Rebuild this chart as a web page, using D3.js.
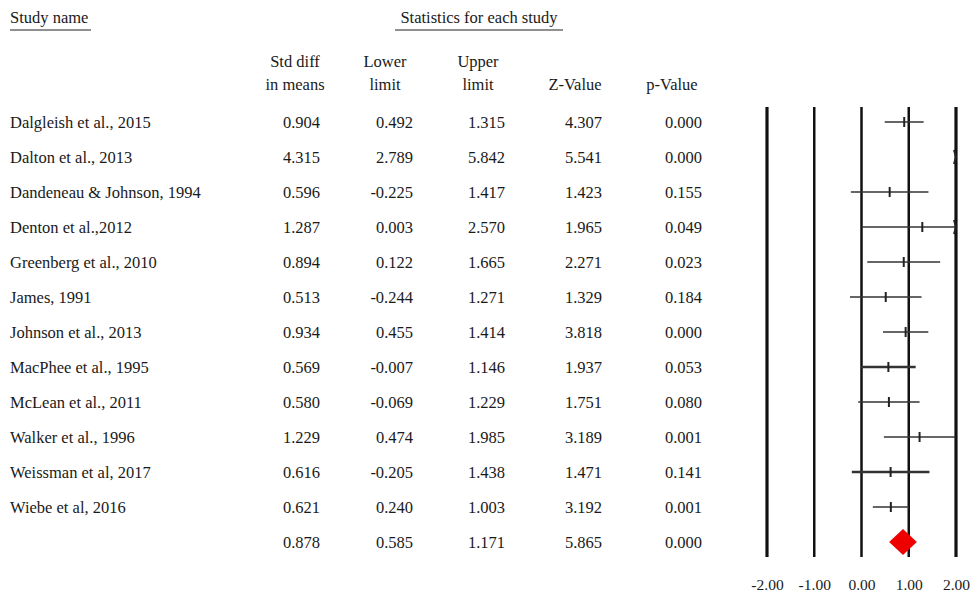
<!DOCTYPE html>
<head lang="en">
<meta charset="utf-8">
<title>Forest plot</title>
<style>
body { margin:0; background:#fff; }
text { font-family:"Liberation Serif","Times New Roman",serif; fill:#1a1a1a; }
</style>
<script src="https://cdnjs.cloudflare.com/ajax/libs/d3/7.8.5/d3.min.js"></script>
</head>
<body>
<script>
// Study data
var studies = ["Dalgleish et al., 2015", "Dalton et al., 2013", "Dandeneau & Johnson, 1994",
	"Denton et al.,2012", "Greenberg et al., 2010", "James, 1991", "Johnson et al., 2013",
	"MacPhee et al., 1995", "McLean et al., 2011", "Walker et al., 1996",
	"Weissman et al, 2017", "Wiebe et al, 2016"];
var stdDiff = [0.904, 4.315, 0.596, 1.287, 0.894, 0.513, 0.934, 0.569, 0.580, 1.229, 0.616, 0.621];
var lowerLimit = [0.492, 2.789, -0.225, 0.003, 0.122, -0.244, 0.455, -0.007, -0.069, 0.474, -0.205, 0.240];
var upperLimit = [1.315, 5.842, 1.417, 2.570, 1.665, 1.271, 1.414, 1.146, 1.229, 1.985, 1.438, 1.003];
var zValue = [4.307, 5.541, 1.423, 1.965, 2.271, 1.329, 3.818, 1.937, 1.751, 3.189, 1.471, 3.192];
var pValue = [0.000, 0.000, 0.155, 0.049, 0.023, 0.184, 0.000, 0.053, 0.080, 0.001, 0.141, 0.001];

// Pooled (summary) row
var summary = { est: 0.878, lo: 0.585, hi: 1.171, z: 5.865, p: 0.000 };

var axisTicks = [-2, -1, 0, 1, 2];

var width = 978, height = 601;
var fontSize = "16.5px";
var svg = d3.select("body").append("svg")
	.attr("width", width)
	.attr("height", height);

// scales
var x = d3.scaleLinear().domain([-2, 2]).range([767, 956]);
var y = d3.scaleLinear().domain([0, studies.length]).range([122, 122 + 35 * studies.length]);
var fmt = function(v) { return v.toFixed(3); };

// top headers
svg.append("text").attr("x", 10).attr("y", 23).style("font-size", fontSize).text("Study name");
svg.append("line").attr("x1", 10).attr("x2", 91).attr("y1", 30).attr("y2", 30)
	.style("stroke", "#222").style("stroke-width", 1.2);
svg.append("text").attr("x", 479).attr("y", 23).attr("text-anchor", "middle")
	.style("font-size", fontSize).text("Statistics for each study");
svg.append("line").attr("x1", 395).attr("x2", 563).attr("y1", 30).attr("y2", 30)
	.style("stroke", "#222").style("stroke-width", 1.2);

// column headers
var columns = [
	{ lines: ["Std diff", "in means"], cx: 295, right: 320, values: stdDiff, sum: summary.est },
	{ lines: ["Lower", "limit"], cx: 385, right: 413, values: lowerLimit, sum: summary.lo },
	{ lines: ["Upper", "limit"], cx: 478, right: 505, values: upperLimit, sum: summary.hi },
	{ lines: ["", "Z-Value"], cx: 575, right: 602, values: zValue, sum: summary.z },
	{ lines: ["", "p-Value"], cx: 672, right: 702, values: pValue, sum: summary.p }
];

columns.forEach(function(col) {
	col.lines.forEach(function(t, k) {
		svg.append("text").attr("x", col.cx).attr("y", 67 + k * 23)
			.attr("text-anchor", "middle").style("font-size", fontSize).text(t);
	});
	svg.append("g").selectAll("text")
		.data(col.values.concat([col.sum]))
		.join("text")
			.attr("x", col.right)
			.attr("y", function(d, i) { return y(i) + 5.5; })
			.attr("text-anchor", "end")
			.style("font-size", fontSize)
			.text(fmt);
});

svg.append("g").selectAll("text")
	.data(studies)
	.join("text")
		.attr("x", 10)
		.attr("y", function(d, i) { return y(i) + 5.5; })
		.style("font-size", fontSize)
		.text(function(d) { return d; });

// vertical reference lines
svg.append("g").selectAll("line")
	.data(axisTicks)
	.join("line")
		.attr("x1", function(d) { return x(d); })
		.attr("x2", function(d) { return x(d); })
		.attr("y1", 107)
		.attr("y2", 557)
		.style("stroke", "#111")
		.style("stroke-width", function(d) { return Math.abs(d) === 2 ? 3.2 : 2.5; });

// axis labels
var axis = d3.axisBottom(x).tickValues(axisTicks).tickSize(0)
	.tickFormat(function(d) { return d.toFixed(2); });
var gAxis = svg.append("g").attr("transform", "translate(0,576)").call(axis);
gAxis.select(".domain").remove();
gAxis.selectAll("text").style("font-size", "15.5px").style("font-family", "Liberation Serif").style("fill", "#1a1a1a");

// study CIs, clipped at the plot limits
var thick = { "MacPhee et al., 1995": 2.6, "Weissman et al, 2017": 2.4 };
var gStudy = svg.append("g");
studies.forEach(function(name, i) {
	var lo = Math.max(lowerLimit[i], -2), hi = Math.min(upperLimit[i], 2);
	var yy = y(i);
	if (lo < hi) {
		gStudy.append("line")
			.attr("x1", x(lo)).attr("x2", x(hi)).attr("y1", yy).attr("y2", yy)
			.style("stroke", "#333").style("stroke-width", thick[name] || 1.6);
	}
	if (stdDiff[i] <= 2) {
		gStudy.append("line")
			.attr("x1", x(stdDiff[i])).attr("x2", x(stdDiff[i]))
			.attr("y1", yy - 5).attr("y2", yy + 5)
			.style("stroke", "#222").style("stroke-width", 2);
	}
	if (upperLimit[i] > 2) {
		gStudy.append("path")
			.attr("d", "M" + (x(2) - 2) + "," + (yy - 7) + "L" + x(2) + "," + yy + "L" + (x(2) - 2) + "," + (yy + 7))
			.style("fill", "none").style("stroke", "#222").style("stroke-width", 2);
	}
});

// summary diamond
var ys = y(studies.length);
svg.append("path")
	.attr("d", "M" + x(summary.lo) + "," + ys + "L" + x(summary.est) + "," + (ys - 13) +
		"L" + x(summary.hi) + "," + ys + "L" + x(summary.est) + "," + (ys + 13) + "Z")
	.style("fill", "#ee0000");
</script>
</body>
</html>
